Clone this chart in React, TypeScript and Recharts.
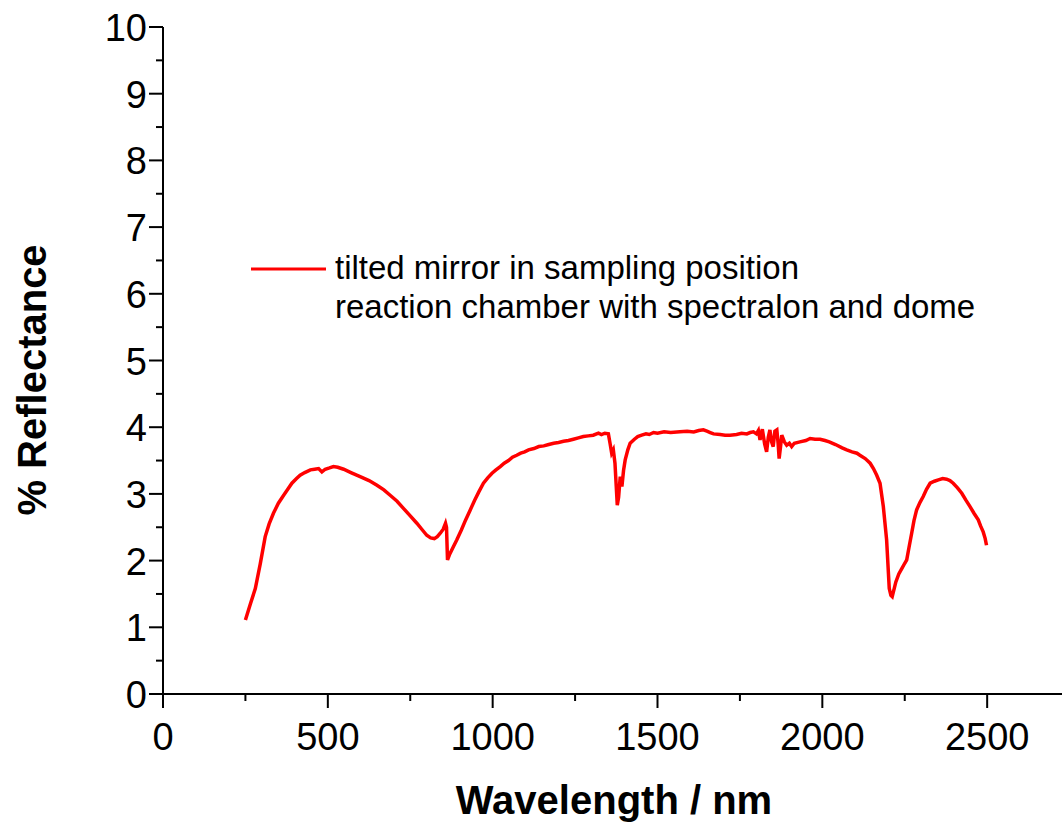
import React from 'react';
import { LineChart, Line, XAxis, YAxis } from 'recharts';

const wavelengths: number[] = [
  250, 265, 280, 295, 310, 322, 335, 350, 366, 380, 391, 405, 416, 430, 447, 460, 472, 482, 492, 505,
  517, 530, 548, 570, 598, 625, 649, 670, 689, 710, 730, 750, 770, 785, 800, 812, 823, 832, 841, 850,
  857, 860, 863, 870, 880, 891, 905, 918, 932, 945, 958, 972, 985, 998, 1010, 1023, 1035, 1048, 1060, 1073,
  1085, 1097, 1109, 1125, 1140, 1155, 1170, 1185, 1200, 1215, 1230, 1245, 1260, 1275, 1290, 1305, 1321, 1330, 1340, 1351,
  1356, 1361, 1366, 1371, 1375, 1378, 1382, 1387, 1392, 1397, 1402, 1410, 1417, 1430, 1440, 1452, 1465, 1475, 1488, 1500,
  1520, 1540, 1568, 1590, 1610, 1625, 1639, 1650, 1660, 1670, 1690, 1705, 1720, 1740, 1755, 1771, 1781, 1791, 1800, 1806,
  1811, 1818, 1825, 1831, 1836, 1841, 1846, 1851, 1856, 1862, 1866, 1869, 1873, 1877, 1885, 1892, 1900, 1907, 1915, 1932,
  1950, 1963, 1978, 1993, 2008, 2021, 2040, 2060, 2074, 2090, 2105, 2114, 2130, 2145, 2155, 2165, 2175, 2185, 2195, 2203,
  2208, 2212, 2218, 2223, 2232, 2241, 2250, 2256, 2263, 2271, 2278, 2286, 2296, 2306, 2316, 2327, 2340, 2352, 2365, 2377,
  2387, 2397, 2410, 2423, 2435, 2448, 2460, 2473, 2480, 2488, 2494, 2498,
];

const reflectance: number[] = [
  1.11, 1.35, 1.58, 1.95, 2.36, 2.55, 2.71, 2.86, 2.98, 3.08, 3.16, 3.23, 3.28, 3.32, 3.36, 3.37, 3.38, 3.33, 3.37, 3.39,
  3.41, 3.40, 3.37, 3.32, 3.26, 3.20, 3.13, 3.06, 2.98, 2.89, 2.78, 2.67, 2.56, 2.47, 2.38, 2.34, 2.33, 2.36, 2.41, 2.47,
  2.56, 2.50, 2.01, 2.10, 2.20, 2.31, 2.46, 2.61, 2.76, 2.90, 3.03, 3.16, 3.24, 3.31, 3.36, 3.41, 3.46, 3.50, 3.55, 3.58,
  3.61, 3.63, 3.66, 3.68, 3.71, 3.72, 3.74, 3.76, 3.77, 3.79, 3.80, 3.82, 3.84, 3.86, 3.87, 3.88, 3.91, 3.89, 3.91, 3.90,
  3.76, 3.61, 3.66, 3.46, 3.10, 2.83, 2.95, 3.26, 3.11, 3.35, 3.51, 3.66, 3.76, 3.82, 3.86, 3.88, 3.90, 3.89, 3.92, 3.91,
  3.93, 3.92, 3.93, 3.94, 3.93, 3.95, 3.96, 3.94, 3.92, 3.90, 3.89, 3.88, 3.88, 3.89, 3.91, 3.90, 3.92, 3.93, 3.90, 3.95,
  3.81, 3.97, 3.75, 3.63, 3.85, 3.96, 3.78, 3.71, 3.94, 3.96, 3.75, 3.53, 3.70, 3.88, 3.78, 3.73, 3.76, 3.71, 3.76, 3.78,
  3.80, 3.83, 3.82, 3.82, 3.80, 3.78, 3.74, 3.69, 3.66, 3.63, 3.61, 3.58, 3.53, 3.46, 3.38, 3.28, 3.16, 2.81, 2.31, 1.58,
  1.48, 1.46, 1.58, 1.68, 1.80, 1.88, 1.96, 2.01, 2.20, 2.41, 2.60, 2.76, 2.87, 2.96, 3.07, 3.16, 3.19, 3.21, 3.23, 3.22,
  3.20, 3.16, 3.09, 3.01, 2.91, 2.81, 2.71, 2.61, 2.52, 2.43, 2.33, 2.23,
];

const xTicks: number[] = [0, 250, 500, 750, 1000, 1250, 1500, 1750, 2000, 2250, 2500];
const xMajor: number[] = [0, 500, 1000, 1500, 2000, 2500];
const yTicks: number[] = [0, 0.5, 1, 1.5, 2, 2.5, 3, 3.5, 4, 4.5, 5, 5.5, 6, 6.5, 7, 7.5, 8, 8.5, 9, 9.5, 10];
const yMajor: number[] = [0, 1, 2, 3, 4, 5, 6, 7, 8, 9, 10];

const seriesName = 'tilted mirror in sampling position';
const legendLine2 = 'reaction chamber with spectralon and dome';
const xTitle = 'Wavelength / nm';
const yTitle = '% Reflectance';

const data = wavelengths.map((w, i) => ({ w, r: reflectance[i] }));

const FONT = "Arial, 'Liberation Sans', sans-serif";

const XTick = (props: any) => {
  const { x, y, payload } = props;
  const v = payload.value;
  const major = xMajor.includes(v);
  return (
    <g>
      <line x1={x} x2={x} y1={y} y2={y + (major ? 14 : 7)} stroke="#000" strokeWidth={2} />
      {major && (
        <text x={x} y={y + 56} textAnchor="middle" fontSize={38} fontFamily={FONT} fill="#000">
          {v}
        </text>
      )}
    </g>
  );
};

const YTick = (props: any) => {
  const { x, y, payload } = props;
  const v = payload.value;
  const major = yMajor.includes(v);
  return (
    <g>
      <line x1={x} x2={x - (major ? 14 : 7)} y1={y} y2={y} stroke="#000" strokeWidth={2} />
      {major && (
        <text x={x - 16} y={y + 14} textAnchor="end" fontSize={38} fontFamily={FONT} fill="#000">
          {v}
        </text>
      )}
    </g>
  );
};

export default function App() {
  return (
    <div style={{ position: 'absolute', left: 0, top: 0, width: 1062, height: 826, background: '#fff' }}>
      <LineChart
        width={1062}
        height={826}
        data={data}
        margin={{ top: 27, right: 0, bottom: 0, left: 0 }}
      >
        <XAxis
          dataKey="w"
          type="number"
          domain={[0, 2727]}
          ticks={xTicks}
          allowDataOverflow
          height={132}
          tickSize={0}
          tickMargin={0}
          tickLine={false}
          axisLine={{ stroke: '#000', strokeWidth: 2 }}
          tick={<XTick />}
          interval={0}
          label={() => (
            <text
              x={614}
              y={814}
              textAnchor="middle"
              fontSize={40}
              fontWeight="bold"
              fontFamily={FONT}
              fill="#000"
            >
              {xTitle}
            </text>
          )}
        />
        <YAxis
          type="number"
          domain={[0, 10]}
          ticks={yTicks}
          allowDataOverflow
          width={163}
          tickSize={0}
          tickMargin={0}
          tickLine={false}
          axisLine={{ stroke: '#000', strokeWidth: 2 }}
          tick={<YTick />}
          interval={0}
          label={() => (
            <text
              x={46}
              y={380}
              transform="rotate(-90 46 380)"
              textAnchor="middle"
              fontSize={40}
              fontWeight="bold"
              fontFamily={FONT}
              fill="#000"
            >
              {yTitle}
            </text>
          )}
        />
        <Line
          type="linear"
          dataKey="r"
          name={seriesName}
          stroke="#ff0000"
          strokeWidth={3.5}
          dot={false}
          activeDot={false}
          isAnimationActive={false}
        />
      </LineChart>
      <svg
        width={760}
        height={80}
        style={{ position: 'absolute', left: 251, top: 253, overflow: 'visible' }}
      >
        <line x1={0} x2={75} y1={16} y2={16} stroke="#ff0000" strokeWidth={3} />
        <text x={84} y={26} fontSize={33} fontFamily={FONT} fill="#000">
          {seriesName}
        </text>
        <text x={84} y={65} fontSize={33} fontFamily={FONT} fill="#000">
          {legendLine2}
        </text>
      </svg>
    </div>
  );
}
